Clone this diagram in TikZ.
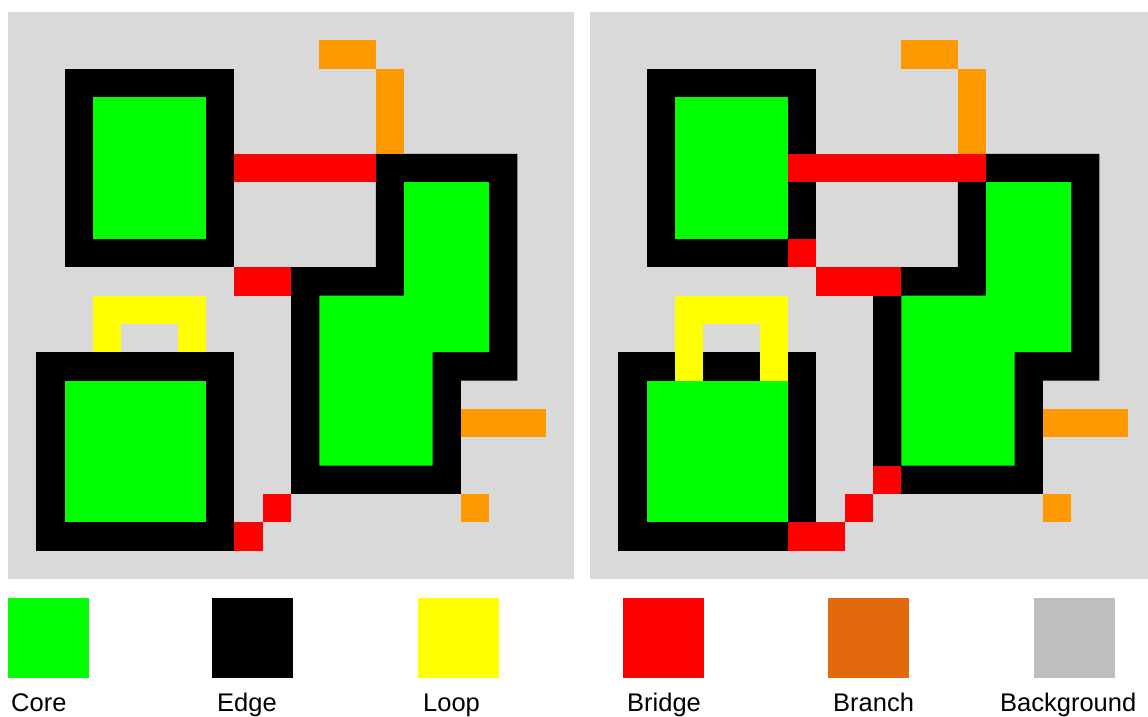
\documentclass[tikz,border=0pt]{standalone}
\usepackage{fontspec}
\setmainfont{Liberation Sans}

\definecolor{corecol}{RGB}{0,255,0}
\definecolor{edgecol}{RGB}{0,0,0}
\definecolor{loopcol}{RGB}{255,255,0}
\definecolor{bridgecol}{RGB}{255,0,0}
\definecolor{branchcol}{RGB}{255,153,0}
\definecolor{branchkeycol}{RGB}{226,106,12}
\definecolor{bgcol}{RGB}{217,217,217}
\definecolor{bgkeycol}{RGB}{190,190,190}

\tikzset{
  key/.style={anchor=north west, inner sep=0pt, minimum width=81pt, minimum height=80pt},
  keylabel/.style={anchor=base west, inner sep=0pt, font=\fontsize{25.5}{30}\selectfont},
  panel/.style={x=28.3pt, y=-28.35pt}
}

\begin{document}
\begin{tikzpicture}[x=1pt, y=-1pt]
  \useasboundingbox (0,0) rectangle (1148,717);

  % left grid: the shape before the split
  \begin{scope}[shift={(8,12)}, panel]
    \fill[bgcol] (0,0) rectangle (20,20);
    % top left blob
    \fill[edgecol] (2,2) rectangle (8,9);
    \fill[corecol] (3,3) rectangle (7,8);
    % bottom left blob with its loop on top
    \fill[edgecol] (1,12) rectangle (8,19);
    \fill[corecol] (2,13) rectangle (7,18);
    \fill[loopcol] (3,10) rectangle (7,11);
    \fill[loopcol] (3,11) rectangle (4,12);
    \fill[loopcol] (6,11) rectangle (7,12);
    % the stepped blob on the right
    \fill[edgecol] (13,5) -- (18,5) -- (18,13) -- (16,13) -- (16,17)
      -- (10,17) -- (10,9) -- (13,9) -- cycle;
    \fill[corecol] (14,6) -- (17,6) -- (17,12) -- (15,12) -- (15,16)
      -- (11,16) -- (11,10) -- (14,10) -- cycle;
    % bridges
    \fill[bridgecol] (8,5) rectangle (13,6);
    \fill[bridgecol] (8,9) rectangle (10,10);
    \fill[bridgecol] (9,17) rectangle (10,18);
    \fill[bridgecol] (8,18) rectangle (9,19);
    % branches
    \fill[branchcol] (11,1) rectangle (13,2);
    \fill[branchcol] (13,2) rectangle (14,5);
    \fill[branchcol] (16,14) rectangle (19,15);
    \fill[branchcol] (16,17) rectangle (17,18);
  \end{scope}

  % right grid: same blobs, bridges and loop cut further in
  \begin{scope}[shift={(590,12)}, panel]
    \fill[bgcol] (0,0) rectangle (20,20);
    \fill[edgecol] (2,2) rectangle (8,9);
    \fill[corecol] (3,3) rectangle (7,8);
    \fill[edgecol] (1,12) rectangle (8,19);
    \fill[corecol] (2,13) rectangle (7,18);
    \fill[loopcol] (3,10) rectangle (7,11);
    \fill[loopcol] (3,11) rectangle (4,13);
    \fill[loopcol] (6,11) rectangle (7,13);
    \fill[edgecol] (13,5) -- (18,5) -- (18,13) -- (16,13) -- (16,17)
      -- (10,17) -- (10,9) -- (13,9) -- cycle;
    \fill[corecol] (14,6) -- (17,6) -- (17,12) -- (15,12) -- (15,16)
      -- (11,16) -- (11,10) -- (14,10) -- cycle;
    % bridges
    \fill[bridgecol] (7,5) rectangle (14,6);
    \fill[bridgecol] (7,8) rectangle (8,9);
    \fill[bridgecol] (8,9) rectangle (11,10);
    \fill[bridgecol] (10,16) rectangle (11,17);
    \fill[bridgecol] (9,17) rectangle (10,18);
    \fill[bridgecol] (7,18) rectangle (9,19);
    % branches
    \fill[branchcol] (11,1) rectangle (13,2);
    \fill[branchcol] (13,2) rectangle (14,5);
    \fill[branchcol] (16,14) rectangle (19,15);
    \fill[branchcol] (16,17) rectangle (17,18);
  \end{scope}

  % legend
  \node[key, fill=corecol] (corekey) at (8,598) {};
  \node[key, fill=edgecol] (edgekey) at (212,598) {};
  \node[key, fill=loopcol] (loopkey) at (418,598) {};
  \node[key, fill=bridgecol] (bridgekey) at (623,598) {};
  \node[key, fill=branchkeycol] (branchkey) at (828,598) {};
  \node[key, fill=bgkeycol] (bgkey) at (1034,598) {};

  \node[keylabel] (corelabel) at (11,711) {Core};
  \node[keylabel] (edgelabel) at (217,711) {Edge};
  \node[keylabel] (looplabel) at (423,711) {Loop};
  \node[keylabel] (bridgelabel) at (627,711) {Bridge};
  \node[keylabel] (branchlabel) at (833,711) {Branch};
  \node[keylabel] (bglabel) at (1000,711) {Background};

\end{tikzpicture}
\end{document}
